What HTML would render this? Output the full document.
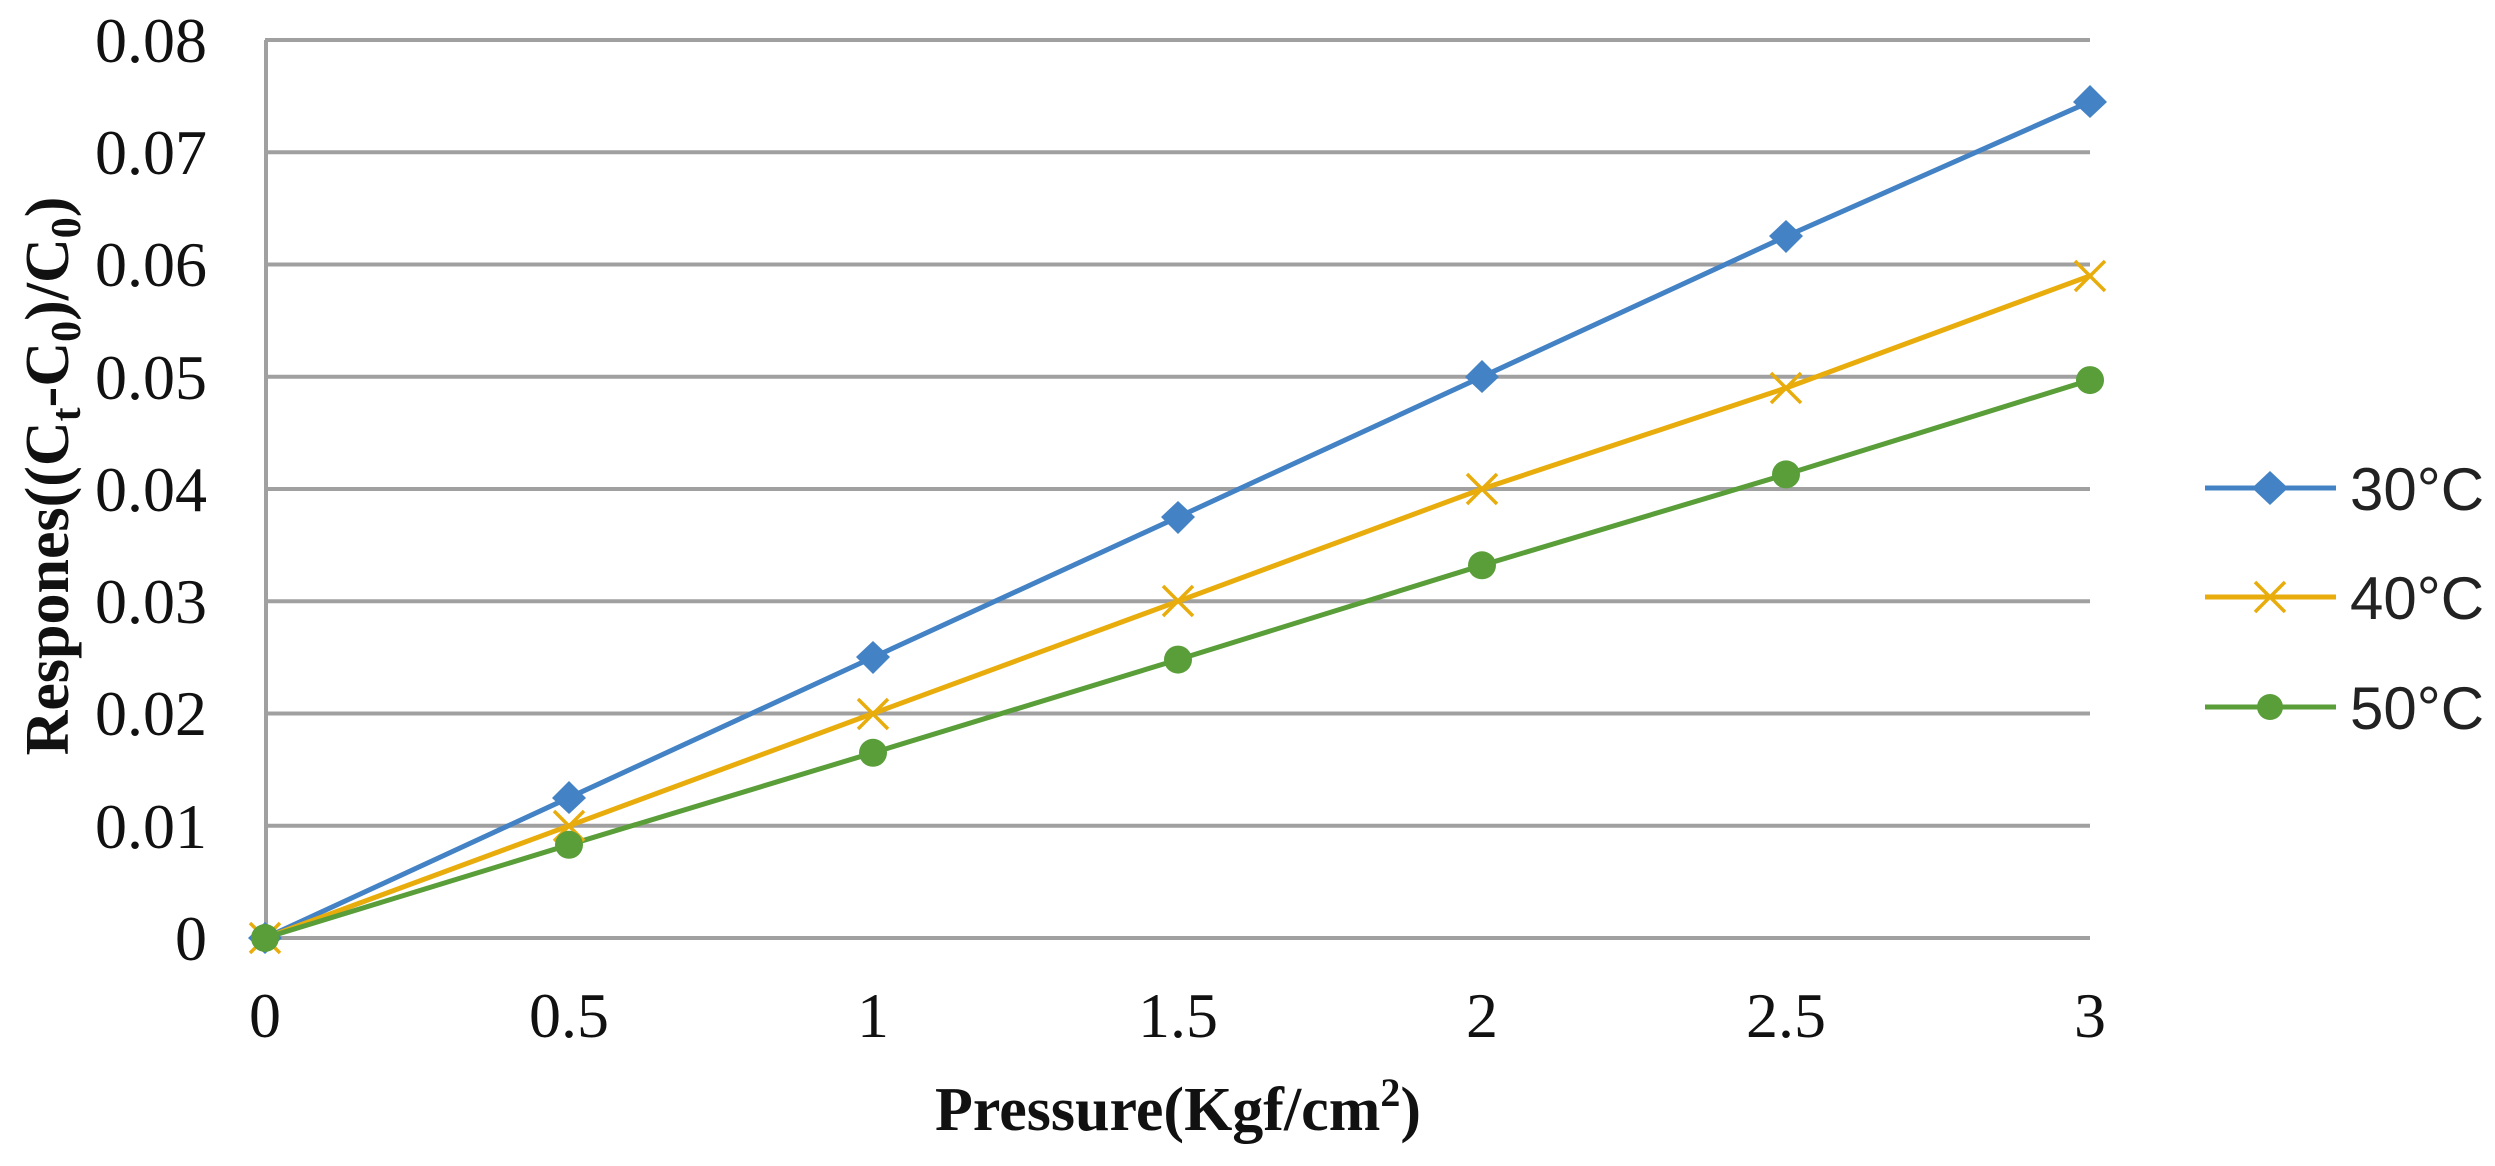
<!DOCTYPE html>
<html><head><meta charset="utf-8"><style>html,body{margin:0;padding:0;background:#fff}</style></head>
<body>
<svg width="2495" height="1161" xmlns="http://www.w3.org/2000/svg">
<rect width="2495" height="1161" fill="#fff"/>
<g stroke="#a0a0a0" stroke-width="4">
<line x1="265" y1="40" x2="2090" y2="40"/>
<line x1="265" y1="152.25" x2="2090" y2="152.25"/>
<line x1="265" y1="264.5" x2="2090" y2="264.5"/>
<line x1="265" y1="376.75" x2="2090" y2="376.75"/>
<line x1="265" y1="489" x2="2090" y2="489"/>
<line x1="265" y1="601.25" x2="2090" y2="601.25"/>
<line x1="265" y1="713.5" x2="2090" y2="713.5"/>
<line x1="265" y1="825.75" x2="2090" y2="825.75"/>
<line x1="265" y1="938" x2="2090" y2="938"/>
<line x1="266" y1="40" x2="266" y2="938"/>
</g>
<g font-family="Liberation Serif, serif" font-size="64" fill="#111" text-anchor="end">
<text x="207" y="62">0.08</text>
<text x="207" y="174">0.07</text>
<text x="207" y="286">0.06</text>
<text x="207" y="399">0.05</text>
<text x="207" y="511">0.04</text>
<text x="207" y="623">0.03</text>
<text x="207" y="735">0.02</text>
<text x="207" y="848">0.01</text>
<text x="207" y="960">0</text>
</g>
<g font-family="Liberation Serif, serif" font-size="64" fill="#111" text-anchor="middle">
<text x="265" y="1037">0</text>
<text x="569" y="1037">0.5</text>
<text x="873" y="1037">1</text>
<text x="1178" y="1037">1.5</text>
<text x="1482" y="1037">2</text>
<text x="1786" y="1037">2.5</text>
<text x="2090" y="1037">3</text>
</g>
<text x="1178" y="1130" font-family="Liberation Serif, serif" font-size="62" font-weight="bold" fill="#111" text-anchor="middle">Pressure(Kgf/cm<tspan font-size="40" dy="-24">2</tspan><tspan dy="24">)</tspan></text>
<text transform="translate(68,476) rotate(-90)" font-family="Liberation Serif, serif" font-size="62" font-weight="bold" fill="#111" text-anchor="middle">Respones((C<tspan font-size="42" dy="12">t</tspan><tspan dy="-12">-C</tspan><tspan font-size="42" dy="12">0</tspan><tspan dy="-12">)/C</tspan><tspan font-size="42" dy="12">0</tspan><tspan dy="-12">)</tspan></text>
<!-- series -->
<polyline fill="none" stroke="#4382c4" stroke-width="5" points="265,938 569,797.7 873,657.4 1178,517.1 1482,376.8 1786,236.4 2090,101.7"/>
<polyline fill="none" stroke="#e8ad0c" stroke-width="5" points="265,938 569,825.8 873,713.5 1178,601.3 1482,489 1786,388 2090,275.8"/>
<polyline fill="none" stroke="#5a9e3a" stroke-width="5" points="265,938 569,844.8 873,752.8 1178,659.6 1482,565.3 1786,474.4 2090,380.1"/>
<g fill="#4382c4">
<polygon points="265,922 282,938 265,954 248,938"/>
<polygon points="569,781 586,798 569,814 552,798"/>
<polygon points="873,641 890,657 873,674 856,657"/>
<polygon points="1178,501 1195,517 1178,534 1161,517"/>
<polygon points="1482,360 1499,377 1482,393 1465,377"/>
<polygon points="1786,220 1803,236 1786,253 1769,236"/>
<polygon points="2090,85 2107,102 2090,118 2073,102"/>
</g>
<g stroke="#e8ad0c" stroke-width="3.5">
<path d="M250 923 L280 953 M250 953 L280 923"/>
<path d="M554 811 L584 841 M554 841 L584 811"/>
<path d="M858 699 L888 729 M858 729 L888 699"/>
<path d="M1163 586 L1193 616 M1163 616 L1193 586"/>
<path d="M1467 474 L1497 504 M1467 504 L1497 474"/>
<path d="M1771 373 L1801 403 M1771 403 L1801 373"/>
<path d="M2075 261 L2105 291 M2075 291 L2105 261"/>
</g>
<g fill="#5a9e3a">
<circle cx="265" cy="938" r="14"/>
<circle cx="569" cy="844.8" r="14"/>
<circle cx="873" cy="752.8" r="14"/>
<circle cx="1178" cy="659.6" r="14"/>
<circle cx="1482" cy="565.3" r="14"/>
<circle cx="1786" cy="474.4" r="14"/>
<circle cx="2090" cy="380.1" r="14"/>
</g>
<!-- legend -->
<line x1="2205" y1="488" x2="2336" y2="488" stroke="#4382c4" stroke-width="5"/>
<polygon points="2270,471 2288,488 2270,505 2252,488" fill="#4382c4"/>
<line x1="2205" y1="597" x2="2336" y2="597" stroke="#e8ad0c" stroke-width="5"/>
<path d="M2255 582 L2285 612 M2255 612 L2285 582" stroke="#e8ad0c" stroke-width="3.5"/>
<line x1="2205" y1="707" x2="2336" y2="707" stroke="#5a9e3a" stroke-width="5"/>
<circle cx="2270" cy="707" r="13" fill="#5a9e3a"/>
<g font-family="Liberation Sans, sans-serif" font-size="60" fill="#222">
<text x="2350" y="510">30°C</text>
<text x="2350" y="619">40°C</text>
<text x="2350" y="729">50°C</text>
</g>
</svg>
</body></html>
